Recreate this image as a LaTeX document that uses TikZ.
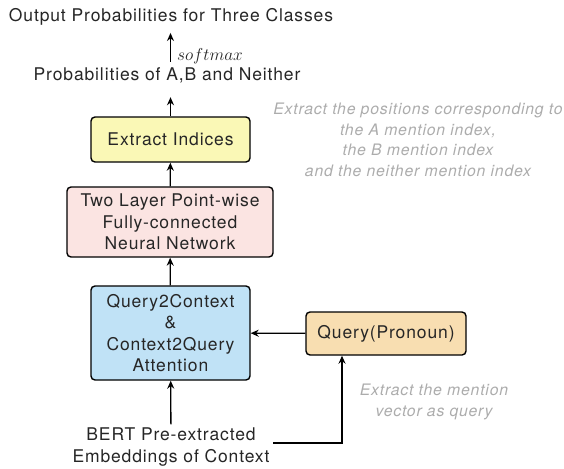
\documentclass[tikz,border=0pt]{standalone}
\usepackage{fontspec}
\setmainfont{TeX Gyre Heros}[LetterSpace=5]
\usetikzlibrary{arrows.meta}

\definecolor{indexfill}{RGB}{250,248,182}
\definecolor{mlpfill}{RGB}{251,228,226}
\definecolor{attnfill}{RGB}{192,226,246}
\definecolor{queryfill}{RGB}{248,222,177}
\definecolor{notegray}{RGB}{172,172,172}

\begin{document}
\begin{tikzpicture}[x=1pt, y=1pt,
    every node/.style={font=\fontsize{17.5}{21.5}\selectfont, text=black!85, align=center},
    block/.style={draw=black, line width=1.4pt, rounded corners=4pt},
    flow/.style={-{Stealth[length=8pt,width=7pt]}, line width=1.3pt},
    note/.style={font=\fontsize{15.8}{20.5}\selectfont\itshape, text=notegray}
]
\useasboundingbox (0,0) rectangle (564,-468);

% Output of the classifier
\node (out) at (171,-17) {Output Probabilities for Three Classes};
\node (prob) at (167,-75) {Probabilities of A,B and Neither};

% Main stack of layers
\node[block, fill=indexfill, minimum width=159pt, minimum height=45pt] (index) at (170.5,-139.5) {Extract Indices};
\node[block, fill=mlpfill, minimum width=206pt, minimum height=70pt] (mlp) at (170,-222) {Two Layer Point-wise\\ Fully-connected\\ Neural Network};
\node[block, fill=attnfill, minimum width=159pt, minimum height=94pt] (attn) at (170.5,-333) {Query2Context\\ \&\\ Context2Query\\ Attention};
\node[block, fill=queryfill, minimum width=160pt, minimum height=43pt] (query) at (386,-333.5) {Query(Pronoun)};

% Input embeddings
\node (bert) at (171,-447) {BERT Pre-extracted\\ Embeddings of Context};

% Side notes
\node[note] (idxnote) at (418,-140) {Extract the positions corresponding to\\ the A mention index,\\ the B mention index\\ and the neither mention index};
\node[note] (qnote) at (434,-402) {Extract the mention\\ vector as query};

% Arrows
\draw[flow] (bert) -- (attn);
\draw[flow] (attn) -- (mlp);
\draw[flow] (mlp) -- (index);
\draw[flow, shorten >=11pt] (index.north) -- (index.north |- prob.south);
\draw[flow, shorten <=2pt, shorten >=4pt] (index.north |- prob.north) -- (index.north |- out.south)
    node[pos=0.1, anchor=base west, inner sep=0pt, xshift=6pt] {$softmax$};
\draw[flow] (query) -- (attn);
\draw[flow] ([yshift=4pt]bert.east) -| ([xshift=-44pt]query.south);

\end{tikzpicture}
\end{document}
